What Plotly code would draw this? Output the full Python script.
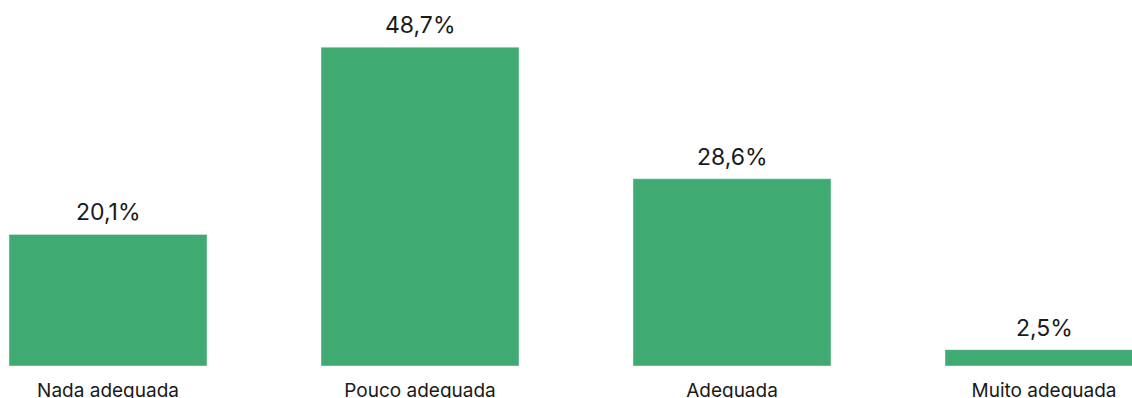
import plotly.graph_objects as go

categories = ["Nada adequada", "Pouco adequada", "Adequada", "Muito adequada"]
values = [20.1, 48.7, 28.6, 2.5]
labels = ["20,1%", "48,7%", "28,6%", "2,5%"]

BAR_COLOR = "#3FAA71"
FONT = "Inter, Lato, sans-serif"

xpos = list(range(len(categories)))

fig = go.Figure(go.Bar(
    x=xpos, y=values, marker_color=BAR_COLOR, width=0.6346,
    hoverinfo="skip",
))

for xi, v, t in zip(xpos, values, labels):
    fig.add_annotation(x=xi, y=v, text=t, showarrow=False, yanchor="bottom",
                       yshift=6, font=dict(family=FONT, size=23, color="#1a1a1a"))

fig.update_layout(
    width=1132, height=398,
    margin=dict(l=0, r=0, t=0, b=32),
    paper_bgcolor="white", plot_bgcolor="white",
    showlegend=False,
    xaxis=dict(range=[-108/312, 1024/312], tickmode="array", tickvals=xpos,
               ticktext=categories, showgrid=False, zeroline=False, showline=False,
               ticks="", tickfont=dict(family=FONT, size=19, color="#1a1a1a"),
               ticklabelstandoff=11, automargin=False),
    yaxis=dict(range=[0, 55.9], visible=False, showgrid=False, zeroline=False,
               automargin=False),
)

fig.write_html("out.html", config={"displayModeBar": False, "staticPlot": True},
               post_script="document.body.style.margin='0';document.body.style.overflow='hidden';")
